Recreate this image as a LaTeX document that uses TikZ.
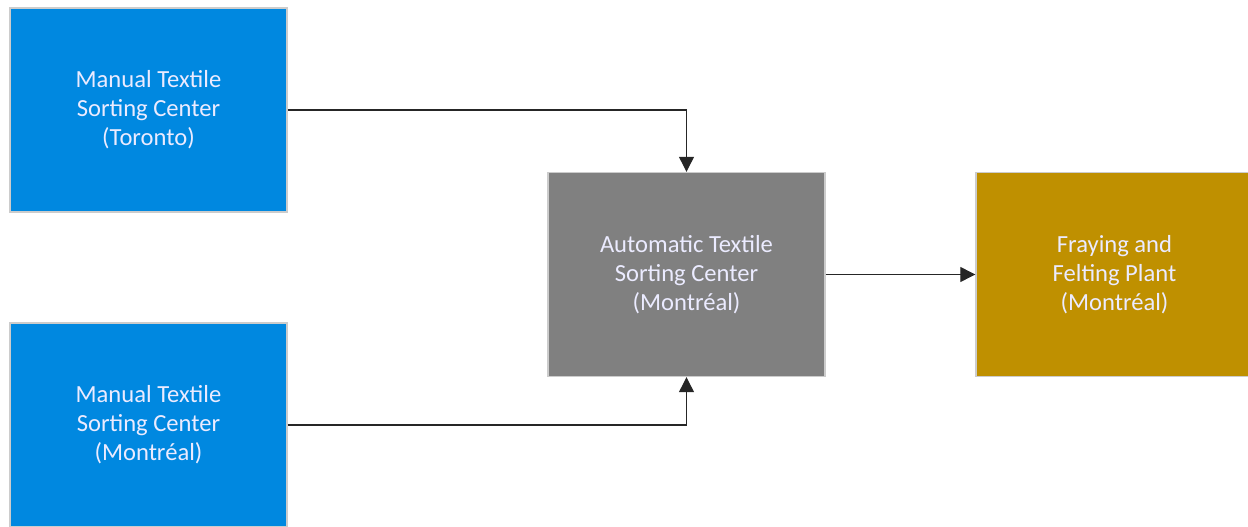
\documentclass[tikz,border=0pt]{standalone}
\usepackage{fontspec}
\setmainfont{Carlito}
\usetikzlibrary{arrows.meta}
\definecolor{sortblue}{HTML}{0088E0}
\definecolor{autogray}{HTML}{808080}
\definecolor{plantgold}{HTML}{BF9000}
\tikzset{
    site/.style={draw=white!80!black,line width=0.8pt,text=white!92!blue,align=center,
        minimum width=5.54cm,minimum height=4.08cm,inner sep=0pt,
        font=\fontsize{14}{16.5}\selectfont},
    flow/.style={draw=black!85,line width=0.7pt,-{Triangle[length=8.5pt,width=8.5pt]}}
}
\begin{document}
\begin{tikzpicture}
                \useasboundingbox (0,0) rectangle (24.96,-10.54);
                \node[site,fill=sortblue] (toronto) at (2.97,-2.20) {Manual Textile\\Sorting Center\\(Toronto)};
                \node[site,fill=sortblue] (manualmtl) at (2.97,-8.50) {Manual Textile\\Sorting Center\\(Montréal)};
                \node[site,fill=autogray] (automtl) at (13.73,-5.49) {Automatic Textile\\Sorting Center\\(Montréal)};
                \node[site,fill=plantgold] (plant) at (22.29,-5.49) {Fraying and\\Felting Plant\\(Montréal)};
                \draw[flow] (toronto) -| (automtl);
                \draw[flow] (manualmtl) -| (automtl);
                \draw[flow] (automtl) -- (plant);
            \end{tikzpicture}
\end{document}
